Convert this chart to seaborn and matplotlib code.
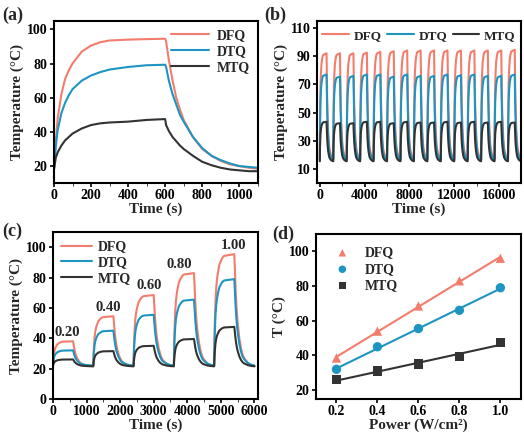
import numpy as np
import pandas as pd
import matplotlib
matplotlib.use("Agg")
import matplotlib.pyplot as plt
from matplotlib.ticker import AutoMinorLocator
import seaborn as sns

# ---- data ----
names = ["DFQ", "DTQ", "MTQ"]
colors = {"DFQ": "#F47C6C", "DTQ": "#1D95C0", "MTQ": "#333333"}

# (a) single heating / cooling curve
time_a = [0, 10, 20, 40, 60, 80, 100, 150, 200, 250, 300, 400, 500, 600,
          605, 620, 640, 660, 680, 700, 750, 800, 850, 900, 950, 1000, 1050, 1100]
dfq_a = [18, 35, 48, 62, 71, 76, 80, 87, 90.5, 92.5, 93.5, 94, 94.3, 94.5,
         93, 82, 70, 60, 53, 47, 37, 30, 26, 23, 21, 20, 19, 18.5]
dtq_a = [18, 32, 41, 51, 57, 61.5, 65, 70, 73, 75, 76.5, 78, 79, 79.3,
         78, 70, 62, 56, 50, 46, 37, 30.5, 26, 23.5, 21.5, 20, 19.5, 19]
mtq_a = [18, 25, 28, 32, 35, 37, 39, 42, 44, 45, 45.5, 46, 47, 47.5,
         44, 40.5, 37, 34.5, 32, 30, 26, 22.5, 20.5, 19, 18, 17.5, 17, 17]

# normalised on/off cycle shape
heat_t = [0, 10, 20, 40, 60, 80, 100, 150, 200, 250, 300, 400, 500, 600]
heat_frac = [0, 0.22, 0.39, 0.58, 0.69, 0.76, 0.81, 0.90, 0.94, 0.97, 0.985, 0.99, 0.995, 1.0]
cool_t = [0, 20, 40, 60, 80, 100, 150, 200, 250, 300, 400, 500, 600]
cool_frac = [1.0, 0.84, 0.68, 0.56, 0.46, 0.39, 0.25, 0.16, 0.10, 0.07, 0.03, 0.01, 0.0]

# (b) 15 cycles, peaks and troughs
peaks_b = {
    "DFQ": [92, 92, 92, 92.5, 93, 93.5, 94, 94, 94, 94, 94, 94, 94, 94, 94.5],
    "DTQ": [77, 75.5, 76, 77, 77, 75.5, 77, 76, 76, 77, 76.5, 77, 76, 76, 77],
    "MTQ": [43.5, 42.5, 42.5, 43.5, 43.5, 42.5, 43.5, 43, 43, 43.5, 43, 43.5, 43, 43.5, 43],
}
trough_b = {"DFQ": 17.5, "DTQ": 16.5, "MTQ": 15.5}

# (c) five power densities
power = [0.2, 0.4, 0.6, 0.8, 1.0]
power_labels = ["0.20", "0.40", "0.60", "0.80", "1.00"]
peaks_c = {
    "DFQ": [38, 54.5, 68.5, 83, 95.5],
    "DTQ": [32, 45, 55.5, 65.5, 79],
    "MTQ": [26, 31.5, 35, 39.5, 47.5],
}
trough_c = {"DFQ": 21.5, "DTQ": 22, "MTQ": 21.5}
label_t = [435, 1660, 2860, 3750, 5380]
label_T = [44, 60, 75, 89, 101.5]

# (d) max temperature vs power
dfq_d = [38.5, 54, 68.5, 83, 96]
dtq_d = [32, 45, 55.5, 66, 79]
mtq_d = [26, 31, 35, 39.5, 47.5]


def cycles(peaks, base, period=1200, on=600):
    t_all, y_all = [], []
    for i, pk in enumerate(peaks):
        t0 = i * period
        t_all += [t0 + t for t in heat_t]
        y_all += [base + (pk - base) * f for f in heat_frac]
        t_all += [t0 + on + t for t in cool_t[1:]]
        y_all += [base + (pk - base) * f for f in cool_frac[1:]]
    return t_all, y_all


sns.set_style("ticks")
plt.rcParams["font.family"] = ["Liberation Serif", "DejaVu Serif"]
plt.rcParams["font.weight"] = "bold"
plt.rcParams["axes.labelweight"] = "bold"
plt.rcParams["axes.linewidth"] = 1.5
plt.rcParams["xtick.major.width"] = 1.2
plt.rcParams["ytick.major.width"] = 1.2
plt.rcParams["xtick.major.size"] = 3
plt.rcParams["ytick.major.size"] = 3
plt.rcParams["xtick.minor.size"] = 2
plt.rcParams["xtick.labelsize"] = 10
plt.rcParams["ytick.labelsize"] = 10
plt.rcParams["axes.labelsize"] = 11
plt.rcParams["xtick.major.pad"] = 1.5
plt.rcParams["ytick.major.pad"] = 1.5

fig = plt.figure(figsize=(5.24, 4.34), dpi=100)
ax_a = fig.add_axes([0.103, 0.578, 0.389, 0.374])
ax_b = fig.add_axes([0.605, 0.578, 0.389, 0.374])
ax_c = fig.add_axes([0.101, 0.081, 0.391, 0.384])
ax_d = fig.add_axes([0.603, 0.081, 0.391, 0.380])

# (a)
df_a = pd.DataFrame({"t": time_a, "DFQ": dfq_a, "DTQ": dtq_a, "MTQ": mtq_a})
for n in names:
    sns.lineplot(data=df_a, x="t", y=n, color=colors[n], lw=1.5, label=n, ax=ax_a)
ax_a.set_xlim(0, 1100)
ax_a.set_ylim(10, 105)
ax_a.set_xticks([0, 200, 400, 600, 800, 1000])
ax_a.set_yticks([20, 40, 60, 80, 100])
ax_a.legend(loc="upper right", frameon=False, fontsize=10, handlelength=2.8,
            labelspacing=0.2, borderaxespad=0.2, handletextpad=0.5)

# (b)
for n in names:
    tb, yb = cycles(peaks_b[n], trough_b[n])
    sns.lineplot(x=tb, y=yb, color=colors[n], lw=1.5, label=n, ax=ax_b)
ax_b.set_xlim(-250, 17950)
ax_b.set_ylim(0, 115)
ax_b.set_xticks([0, 4000, 8000, 12000, 16000])
ax_b.set_yticks([10, 30, 50, 70, 90, 110])
ax_b.legend(loc="upper center", ncol=3, frameon=False, fontsize=9.5, handlelength=2.0,
            columnspacing=0.45, handletextpad=0.35, borderaxespad=0.25)

# (c)
for n in names:
    tc, yc = cycles(peaks_c[n], trough_c[n])
    sns.lineplot(x=tc, y=yc, color=colors[n], lw=1.5, label=n, ax=ax_c)
for lab, x, y in zip(power_labels, label_t, label_T):
    ax_c.text(x, y, lab, ha="center", va="center", fontsize=10.5, fontweight="bold")
ax_c.set_xlim(0, 6100)
ax_c.set_ylim(0, 110)
ax_c.set_xticks([0, 1000, 2000, 3000, 4000, 5000, 6000])
ax_c.set_yticks([0, 20, 40, 60, 80, 100])
ax_c.legend(loc="upper left", frameon=False, fontsize=10, handlelength=2.2,
            labelspacing=0.2, borderaxespad=0.2, handletextpad=0.4)

# (d)
df_d = pd.DataFrame({"P": power, "DFQ": dfq_d, "DTQ": dtq_d, "MTQ": mtq_d})
markers = {"DFQ": "^", "DTQ": "o", "MTQ": "s"}
for n in names:
    sns.regplot(data=df_d, x="P", y=n, ci=None, scatter=False, color=colors[n],
                line_kws={"lw": 1.5}, ax=ax_d)
    sns.scatterplot(data=df_d, x="P", y=n, marker=markers[n], color=colors[n],
                    s=45, edgecolor="none", label=n, ax=ax_d, zorder=3)
ax_d.set_xlim(0.1, 1.1)
ax_d.set_ylim(15, 110)
ax_d.set_xticks([0.2, 0.4, 0.6, 0.8, 1.0])
ax_d.set_xticklabels(["0.2", "0.4", "0.6", "0.8", "1.0"])
ax_d.set_yticks([20, 40, 60, 80, 100])
ax_d.legend(loc="upper left", frameon=False, fontsize=10, handletextpad=0.6,
            labelspacing=0.25, borderaxespad=0.5, markerscale=0.8)

for ax in [ax_a, ax_b, ax_c]:
    ax.set_xlabel("Time (s)", labelpad=0)
    ax.set_ylabel("Temperature (°C)", labelpad=2)
    ax.xaxis.set_minor_locator(AutoMinorLocator(2))
ax_d.set_xlabel("Power (W/cm²)", labelpad=0)
ax_d.set_ylabel("T (°C)", labelpad=2)

for ax in [ax_a, ax_b, ax_c, ax_d]:
    for sp in ax.spines.values():
        sp.set_visible(True)
        sp.set_color("black")
    ax.tick_params(direction="out", colors="black")

for lab, x, y in [("(a)", 0.004, 0.985), ("(b)", 0.505, 0.985),
                  ("(c)", 0.004, 0.487), ("(d)", 0.52, 0.48)]:
    fig.text(x, y, lab, fontsize=13, fontweight="bold", va="top", ha="left")

fig.savefig("out.png", dpi=100)
